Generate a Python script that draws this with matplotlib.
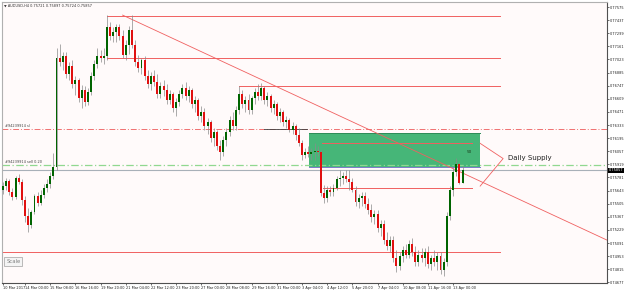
import matplotlib
matplotlib.use('Agg')
import matplotlib.pyplot as plt
import matplotlib.transforms as mtransforms
from matplotlib.patches import Rectangle

# AUDUSD H4 candles
first_open = 0.7565
closes = [0.7569, 0.7574, 0.7563, 0.7558, 0.7578, 0.7573, 0.7554, 0.7538, 0.7528, 0.7542,
          0.7559, 0.7551, 0.7560, 0.7567, 0.7571, 0.7580, 0.7589,
          0.7704, 0.7700, 0.7706, 0.7687, 0.7695, 0.7677, 0.7681, 0.7662, 0.7670, 0.7658,
          0.7668, 0.7685, 0.7698, 0.7706, 0.7704, 0.7706, 0.7737, 0.7727, 0.7731, 0.7736,
          0.7727, 0.7707, 0.7718, 0.7733, 0.7718, 0.7700,
          0.7693, 0.7702, 0.7685, 0.7677, 0.7685, 0.7679, 0.7666, 0.7674, 0.7670, 0.7660,
          0.7666, 0.7651, 0.7658,
          0.7666, 0.7672, 0.7664, 0.7670, 0.7655, 0.7660, 0.7643, 0.7647, 0.7632, 0.7637,
          0.7620, 0.7626, 0.7611, 0.7605, 0.7618,
          0.7626, 0.7639, 0.7632, 0.7649, 0.7666, 0.7655, 0.7660, 0.7649, 0.7662, 0.7668,
          0.7664, 0.7672,
          0.7660, 0.7664, 0.7651, 0.7655, 0.7643, 0.7647, 0.7637, 0.7639, 0.7628, 0.7632,
          0.7623, 0.7614, 0.7602,
          0.7605, 0.7603, 0.7605, 0.7606, 0.7605,
          0.7562, 0.7557, 0.7565, 0.7563, 0.7567, 0.7576, 0.7578, 0.7580, 0.7576, 0.7573,
          0.7565, 0.7552, 0.7557, 0.7559, 0.7550, 0.7544, 0.7536, 0.7540, 0.7525, 0.7529,
          0.7512, 0.7506, 0.7512, 0.7493, 0.7485, 0.7495, 0.7502, 0.7497, 0.7508, 0.7500,
          0.7489, 0.7497, 0.7493, 0.7500, 0.7487, 0.7493, 0.7489, 0.7495, 0.7481, 0.7489,
          0.7538, 0.7565, 0.7584, 0.7592, 0.75721, 0.75857]
highs = [0.7573, 0.7578, 0.7577, 0.7567, 0.7580, 0.7582, 0.7576, 0.7559, 0.7546, 0.7544,
         0.7561, 0.7563, 0.7565, 0.7571, 0.7576, 0.7584, 0.7604,
         0.7714, 0.7719, 0.7710, 0.7710, 0.7700, 0.7702, 0.7685, 0.7683, 0.7675, 0.7674,
         0.7672, 0.7689, 0.7702, 0.7714, 0.7712, 0.7714, 0.7749, 0.7742, 0.7736, 0.7740,
         0.7740, 0.7733, 0.7723, 0.7738, 0.7749, 0.7723,
         0.7707, 0.7704, 0.7706, 0.7691, 0.7689, 0.7691, 0.7687, 0.7679, 0.7681, 0.7677,
         0.7670, 0.7668, 0.7662,
         0.7670, 0.7677, 0.7679, 0.7674, 0.7672, 0.7664, 0.7662, 0.7653, 0.7651, 0.7641,
         0.7639, 0.7630, 0.7628, 0.7618, 0.7622,
         0.7630, 0.7643, 0.7647, 0.7653, 0.7674, 0.7670, 0.7664, 0.7666, 0.7664, 0.7672,
         0.7677, 0.7678,
         0.7674, 0.7668, 0.7666, 0.7660, 0.7658, 0.7651, 0.7649, 0.7643, 0.7641, 0.7637,
         0.7634, 0.7630, 0.7618,
         0.7609, 0.7611, 0.7609, 0.7614, 0.7611,
         0.7607, 0.7570, 0.7569, 0.7569, 0.7571, 0.7580, 0.7586, 0.7584, 0.7586, 0.7586,
         0.7578, 0.7569, 0.7561, 0.7563, 0.7563, 0.7557, 0.7550, 0.7544, 0.7544, 0.7533,
         0.7533, 0.7521, 0.7517, 0.7517, 0.7502, 0.7500, 0.7506, 0.7508, 0.7512, 0.7514,
         0.7506, 0.7502, 0.7504, 0.7504, 0.7506, 0.7497, 0.7502, 0.7500, 0.7500, 0.7493,
         0.7542, 0.7569, 0.7588, 0.7599, 0.7594, 0.75897]
lows = [0.7561, 0.7565, 0.7560, 0.7554, 0.7555, 0.7571, 0.7549, 0.7531, 0.7521, 0.7525,
        0.7540, 0.7548, 0.7549, 0.7557, 0.7563, 0.7567, 0.7576,
        0.7586, 0.7695, 0.7691, 0.7683, 0.7681, 0.7672, 0.7665, 0.7658, 0.7651, 0.7653,
        0.7654, 0.7665, 0.7681, 0.7693, 0.7700, 0.7698, 0.7702, 0.7723, 0.7721, 0.7721,
        0.7723, 0.7704, 0.7702, 0.7708, 0.7714, 0.7695,
        0.7689, 0.7687, 0.7681, 0.7672, 0.7670, 0.7674, 0.7662, 0.7662, 0.7664, 0.7655,
        0.7655, 0.7647, 0.7643,
        0.7653, 0.7662, 0.7660, 0.7658, 0.7651, 0.7647, 0.7639, 0.7637, 0.7628, 0.7624,
        0.7615, 0.7611, 0.7607, 0.7597, 0.7601,
        0.7611, 0.7622, 0.7628, 0.7628, 0.7645, 0.7651, 0.7647, 0.7645, 0.7645, 0.7655,
        0.7660, 0.7660,
        0.7655, 0.7653, 0.7647, 0.7645, 0.7639, 0.7637, 0.7632, 0.7630, 0.7626, 0.7624,
        0.7618, 0.7611, 0.7597,
        0.7599, 0.7600, 0.7597, 0.7597, 0.7601,
        0.7559, 0.7551, 0.7552, 0.7559, 0.7559, 0.7565, 0.7569, 0.7571, 0.7573, 0.7565,
        0.7563, 0.7548, 0.7546, 0.7548, 0.7546, 0.7540, 0.7531, 0.7529, 0.7521, 0.7517,
        0.7508, 0.7502, 0.7500, 0.7489, 0.7479, 0.7481, 0.7489, 0.7493, 0.7493, 0.7495,
        0.7485, 0.7485, 0.7489, 0.7485, 0.7483, 0.7481, 0.7485, 0.7481, 0.7476, 0.7474,
        0.7485, 0.7533, 0.7559, 0.7580, 0.7571, 0.75724]
opens = [first_open] + closes[:-1]

time_labels = ['10 Mar 2017', '14 Mar 00:00', '15 Mar 08:00', '16 Mar 16:00', '19 Mar 20:00',
               '21 Mar 04:00', '22 Mar 12:00', '23 Mar 20:00', '27 Mar 00:00', '28 Mar 08:00',
               '29 Mar 16:00', '31 Mar 00:00', '3 Apr 04:00', '4 Apr 12:00', '5 Apr 20:00',
               '7 Apr 04:00', '10 Apr 08:00', '11 Apr 16:00', '13 Apr 00:00']
time_label_bars = [0, 7, 15, 23, 31, 39, 47, 55, 63, 71, 79, 87, 95, 103, 111, 119, 127, 135, 143]

price_ticks = [0.77575, 0.77437, 0.77299, 0.77161, 0.77023, 0.76885, 0.76747, 0.76609,
               0.76471, 0.76333, 0.76195, 0.76057, 0.75919, 0.75781, 0.75643, 0.75505,
               0.75367, 0.75229, 0.75091, 0.74953, 0.74815, 0.74677]

# horizontal levels: price, start bar, end bar
levels = [(0.7748, 33, 158), (0.7704, 33, 158), (0.7674, 75, 158),
          (0.7614, 101.4, 149), (0.7567, 101.7, 149), (0.7500, 0, 158)]
trend_bars = [38, 192]
trend_prices = [0.7749, 0.7512]
zone_bars = [97.2, 151.6]
zone_prices = [0.7589, 0.7625]
sl_price = 0.7629
sell_price = 0.7591
bid_price = 0.75857
callout_bars = [151.6, 158.9, 151.6]
callout_prices = [0.7614, 0.7598, 0.7569]

bg = '#FFFAFA'
fs = 2.5
fig = plt.figure(figsize=(6.25, 2.92), dpi=100)
fig.patch.set_facecolor('white')
ax = fig.add_axes([2 / 625, 9 / 292, 605 / 625, 281 / 292])
ax.set_facecolor(bg)

# supply zone
ax.add_patch(Rectangle((zone_bars[0], zone_prices[0]), zone_bars[1] - zone_bars[0],
                       zone_prices[1] - zone_prices[0], facecolor='#3CB371',
                       edgecolor='none', alpha=0.95, zorder=1))
ax.plot(zone_bars, [zone_prices[0]] * 2, color='#7B7BC8', lw=0.7, zorder=1.5)
ax.plot(zone_bars, [zone_prices[1]] * 2, color='#2E8B57', lw=0.7, zorder=1.5)

# order lines and bid line
ax.axhline(sl_price, color='#F07070', lw=0.7, ls=(0, (6, 2, 1, 2)), zorder=1)
ax.axhline(sell_price, color='#90D890', lw=0.9, ls=(0, (6, 2, 1, 2)), zorder=1)
ax.axhline(bid_price, color='#A8B0B8', lw=0.8, zorder=1)
ax.plot([83, 96.5], [sl_price, sl_price], color='#404040', lw=0.6, zorder=2)

for p, b0, b1 in levels:
    ax.plot([b0, b1], [p, p], color='#F06060', lw=0.7, zorder=2)
ax.plot(trend_bars, trend_prices, color='#F06060', lw=0.6, zorder=2)
ax.plot(callout_bars, callout_prices, color='#F06060', lw=0.6, zorder=2)

# candles
for i in range(len(closes)):
    o, h, l, c = opens[i], highs[i], lows[i], closes[i]
    ax.vlines(i, l, h, color='#8A8A8A', lw=0.5, zorder=3)
    col = '#006400' if c >= o else '#E01010'
    ax.bar(i, max(abs(c - o), 0.00004), bottom=min(o, c), width=0.62,
           color=col, lw=0, zorder=4)

ax.set_xlim(-0.32, 191.9)
ax.set_ylim(0.74670, 0.77628)

ax.set_xticks(time_label_bars)
ax.set_xticklabels(time_labels, fontsize=fs, ha='left', color='#202020')
ax.yaxis.tick_right()
ax.set_yticks(price_ticks)
ax.set_yticklabels(['%.5f' % t for t in price_ticks], fontsize=fs, color='#202020')
ax.tick_params(axis='both', length=1.5, width=0.5, pad=0.8, colors='#303030')
ax.tick_params(axis='y', labelcolor='#202020')
ax.tick_params(axis='x', labelcolor='#202020')
for s in ['top', 'left']:
    ax.spines[s].set_color('#B0B0B0')
for s in ['bottom', 'right']:
    ax.spines[s].set_color('#505050')
for s in ax.spines.values():
    s.set_linewidth(0.8)

trans = mtransforms.blended_transform_factory(ax.transAxes, ax.transData)
ax.text(1.003, bid_price, '%.5f' % bid_price, transform=trans, fontsize=fs,
        color='white', va='center', ha='left', clip_on=False,
        bbox=dict(boxstyle='square,pad=0.12', facecolor='black', edgecolor='none'))

ax.text(0.004, 0.995, '\u25bc AUDUSD,H4 0.75721 0.75897 0.75724 0.75857',
        transform=ax.transAxes, fontsize=fs, va='top', ha='left', color='#303030')
ax.text(0.5, sl_price + 0.0001, '#94239914 sl', fontsize=fs, color='#404040', va='bottom')
ax.text(0.5, sell_price + 0.0001, '#94239914 sell 0.20', fontsize=fs, color='#404040',
        va='bottom')
ax.text(147.4, 0.7605, '50', fontsize=3, color='#1a3a1a', va='center', zorder=5)
ax.text(160.5, 0.7599, 'Daily Supply', fontsize=5, color='#202020', va='center')
ax.text(0.007, 0.076, 'Scale', transform=ax.transAxes, fontsize=3.8, color='#808080',
        va='center', bbox=dict(boxstyle='square,pad=0.35', facecolor='#F4F4F4',
                               edgecolor='#A0A0A0', lw=0.5))

fig.savefig('out.png', dpi=100, facecolor='white')
